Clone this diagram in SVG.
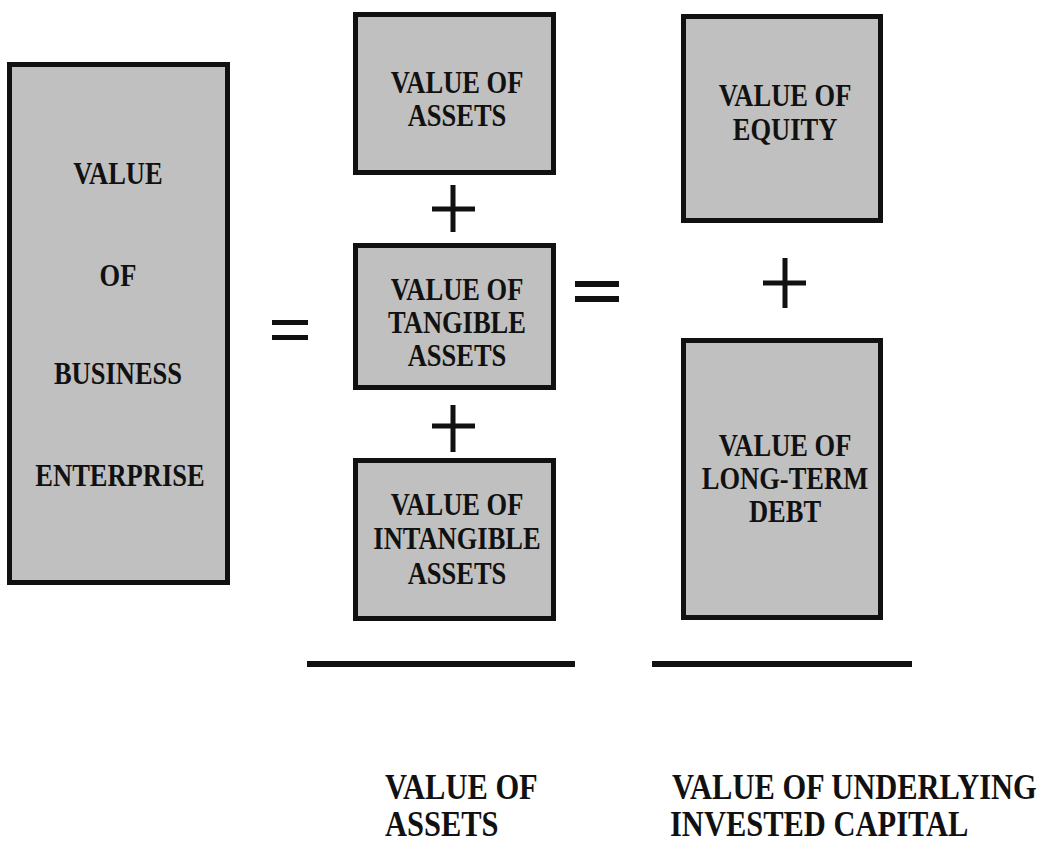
<svg xmlns="http://www.w3.org/2000/svg" width="1044" height="843" viewBox="0 0 1044 843">
<style>
.box{fill:#c0c0c0;stroke:#111;stroke-width:5}
.t{font-family:"Liberation Serif","Times New Roman",serif;font-weight:bold;font-size:26.5px;fill:#111;text-anchor:middle}
.b{font-family:"Liberation Serif","Times New Roman",serif;font-weight:bold;font-size:30.5px;fill:#111}
.op{stroke:#111;stroke-width:5;fill:none}
.bar{fill:#111}
</style>
<rect width="1044" height="843" fill="#fff"/>
<g id="business">
<rect class="box" x="9.5" y="64.5" width="218" height="518"/>
<text class="t" transform="translate(118 184) scale(1 1.2)">VALUE</text>
<text class="t" transform="translate(118 286) scale(1 1.2)">OF</text>
<text class="t" transform="translate(118 384) scale(1 1.2)">BUSINESS</text>
<text class="t" transform="translate(120 486) scale(1 1.2)">ENTERPRISE</text>
</g>
<g id="assets">
<rect class="box" x="355.5" y="14.5" width="198" height="158"/>
<text class="t" transform="translate(457 93) scale(1 1.2)">VALUE OF</text>
<text class="t" transform="translate(457 126) scale(1 1.2)">ASSETS</text>
</g>
<g id="tangible">
<rect class="box" x="355.5" y="245.5" width="198" height="142"/>
<text class="t" transform="translate(457 300) scale(1 1.2)">VALUE OF</text>
<text class="t" transform="translate(457 333) scale(1 1.2)">TANGIBLE</text>
<text class="t" transform="translate(457 366) scale(1 1.2)">ASSETS</text>
</g>
<g id="intangible">
<rect class="box" x="355.5" y="460.5" width="198" height="158"/>
<text class="t" transform="translate(457 515) scale(1 1.2)">VALUE OF</text>
<text class="t" transform="translate(457 549) scale(1 1.2)">INTANGIBLE</text>
<text class="t" transform="translate(457 584) scale(1 1.2)">ASSETS</text>
</g>
<g id="equity">
<rect class="box" x="683.5" y="16.5" width="197" height="204"/>
<text class="t" transform="translate(785 106) scale(1 1.2)">VALUE OF</text>
<text class="t" transform="translate(785 140) scale(1 1.2)">EQUITY</text>
</g>
<g id="debt">
<rect class="box" x="683.5" y="340.5" width="197" height="277"/>
<text class="t" transform="translate(785 456) scale(1 1.2)">VALUE OF</text>
<text class="t" transform="translate(785 489) scale(1 1.2)">LONG-TERM</text>
<text class="t" transform="translate(785 522) scale(1 1.2)">DEBT</text>
</g>
<g id="connectors">
<path class="op" d="M453 185V232M432 209H475"/>
<path class="op" d="M453 405V452M432 426H475"/>
<path class="op" d="M785 258V308M763 283H806"/>
<rect class="bar" x="272" y="320" width="36" height="5"/>
<rect class="bar" x="272" y="335" width="36" height="5"/>
<rect class="bar" x="575" y="281" width="44" height="6"/>
<rect class="bar" x="575" y="296" width="44" height="6"/>
<rect class="bar" x="307" y="661" width="268" height="6"/>
<rect class="bar" x="652" y="661" width="260" height="6"/>
</g>
<g id="labels">
<text class="b" transform="translate(385 799) scale(1 1.2)">VALUE OF</text>
<text class="b" transform="translate(385 836) scale(1 1.2)">ASSETS</text>
<text class="b" transform="translate(672 799) scale(1 1.2)">VALUE OF UNDERLYING</text>
<text class="b" transform="translate(670 836) scale(1 1.2)">INVESTED CAPITAL</text>
</g>
</svg>
